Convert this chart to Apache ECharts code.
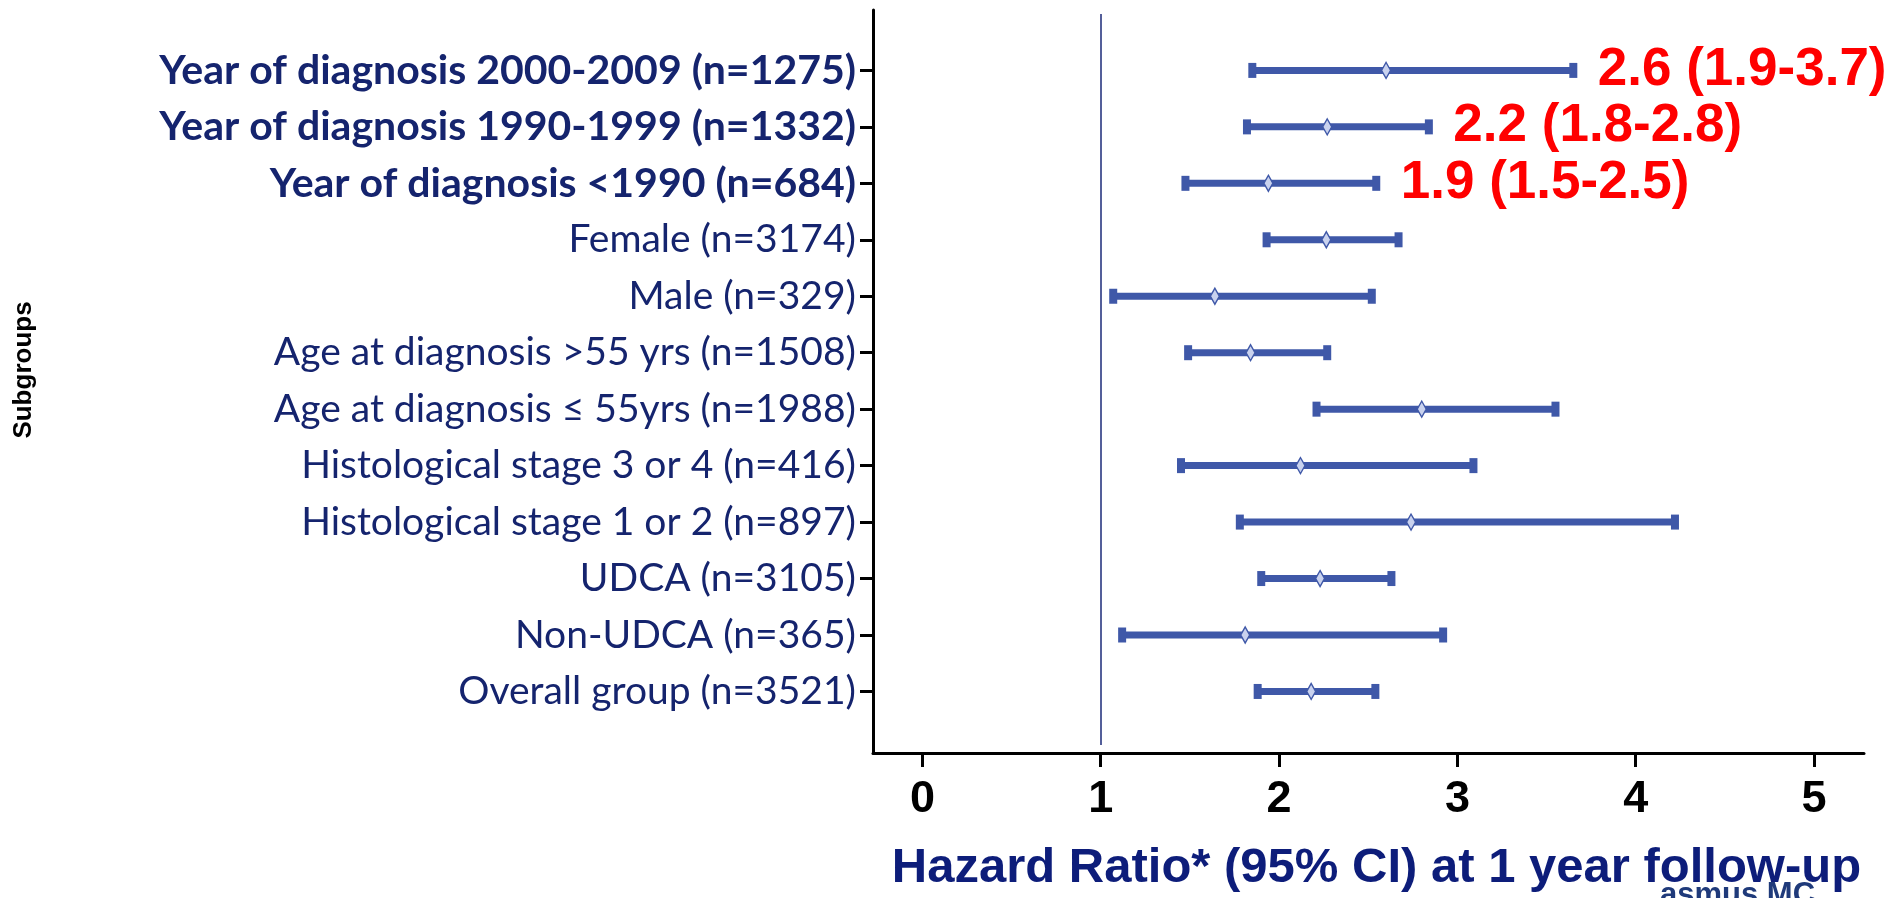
<!DOCTYPE html>
<html>
<head>
<meta charset="utf-8">
<script src="https://cdn.jsdelivr.net/npm/echarts@6/dist/echarts.min.js"></script>
<style>
html,body{margin:0;padding:0;background:#fff;}
#chart{width:1891px;height:898px;}
</style>
</head>
<body>
<div id="chart"></div>
<script>
// ---- data (bottom row first) ----
const categories = [
  'Overall group (n=3521)',
  'Non-UDCA (n=365)',
  'UDCA (n=3105)',
  'Histological stage 1 or 2 (n=897)',
  'Histological stage 3 or 4 (n=416)',
  'Age at diagnosis \u2264 55yrs (n=1988)',
  'Age at diagnosis >55 yrs (n=1508)',
  'Male (n=329)',
  'Female (n=3174)',
  'Year of diagnosis <1990 (n=684)',
  'Year of diagnosis 1990-1999 (n=1332)',
  'Year of diagnosis 2000-2009 (n=1275)'
];
const boldRows = [false, false, false, false, false, false, false, false, false, true, true, true];
const hazardRatio = [2.18, 1.81, 2.23, 2.74, 2.12, 2.80, 1.84, 1.64, 2.265, 1.94, 2.27, 2.60];
const ciLower     = [1.88, 1.12, 1.90, 1.78, 1.45, 2.21, 1.49, 1.07, 1.93, 1.475, 1.82, 1.85];
const ciUpper     = [2.54, 2.92, 2.63, 4.22, 3.09, 3.55, 2.27, 2.52, 2.67, 2.545, 2.84, 3.65];
const hrLabels    = ['', '', '', '', '', '', '', '', '', '1.9 (1.5-2.5)', '2.2 (1.8-2.8)', '2.6 (1.9-3.7)'];
const xTicks = [0, 1, 2, 3, 4, 5];
const refLineX = 1;
const refLineYRange = [-0.95, 12];
const xTitle = 'Hazard Ratio* (95% CI) at 1 year follow-up';
const yTitle = 'Subgroups';

const rowIdx = categories.map((_, i) => i);
const barColor = '#3f58a8';
const navy = '#15246e';

const ciData = rowIdx.map(i => [i, ciLower[i], ciUpper[i]]);
const pointData = rowIdx.map(i => [hazardRatio[i], i]);
const labelData = rowIdx.filter(i => hrLabels[i]).map(i => ({ value: [ciUpper[i], i], text: hrLabels[i] }));

const chart = echarts.init(document.getElementById('chart'), null, { renderer: 'canvas' });

const option = {
  backgroundColor: '#ffffff',
  animation: false,
  grid: { left: 873, right: 27, top: 10, bottom: 142, containLabel: false },
  xAxis: {
    type: 'value',
    min: -0.277,
    max: 5.28,
    name: xTitle,
    nameLocation: 'middle',
    nameGap: 91,
    nameTextStyle: { fontFamily: 'Liberation Sans', fontWeight: 'bold', fontSize: 49, color: '#0d1d7a', padding: [0, 0, 0, 16] },
    axisLine: { show: true, onZero: false, lineStyle: { color: '#000', width: 3 } },
    axisTick: { show: true, customValues: xTicks, length: 14, lineStyle: { color: '#000', width: 3 } },
    axisLabel: { customValues: xTicks, margin: 24, fontFamily: 'Liberation Sans', fontWeight: 'bold', fontSize: 45, color: '#000' },
    splitLine: { show: false }
  },
  yAxis: {
    type: 'value',
    min: -1.09,
    max: 12.07,
    axisLine: { show: true, onZero: false, lineStyle: { color: '#000', width: 3 } },
    axisTick: { show: true, customValues: rowIdx, length: 13, lineStyle: { color: '#000', width: 3 } },
    axisLabel: {
      customValues: rowIdx,
      margin: 17,
      formatter: v => {
        const i = Math.round(v);
        const t = categories[i] || '';
        return boldRows[i] ? '{b|' + t + '}' : '{r|' + t + '}';
      },
      rich: {
        r: { fontFamily: 'Lato', fontSize: 39, color: navy },
        b: { fontFamily: 'Lato', fontWeight: 'bold', fontSize: 41, color: navy }
      }
    },
    splitLine: { show: false }
  },
  graphic: [
    {
      type: 'text',
      x: 24, y: 370,
      rotation: Math.PI / 2,
      style: { text: yTitle, fontFamily: 'Liberation Sans', fontWeight: 'bold', fontSize: 26, fill: '#000', align: 'center', verticalAlign: 'middle' }
    },
    {
      type: 'text',
      x: 1660, y: 880, z: -1,
      style: { text: 'asmus MC', fontFamily: 'Liberation Sans', fontWeight: 'bold', fontSize: 31, fill: '#1f3a7a', align: 'left', verticalAlign: 'top' }
    }
  ],
  series: [
    {
      type: 'custom',
      name: 'CI',
      data: ciData,
      encode: { x: [1, 2], y: 0 },
      renderItem: (params, api) => {
        const y = api.value(0);
        const p1 = api.coord([api.value(1), y]);
        const p2 = api.coord([api.value(2), y]);
        const h = 7, capW = 8, capH = 15;
        return {
          type: 'group',
          children: [
            { type: 'rect', shape: { x: p1[0], y: p1[1] - h / 2, width: p2[0] - p1[0], height: h }, style: { fill: barColor } },
            { type: 'rect', shape: { x: p1[0] - capW / 2, y: p1[1] - capH / 2, width: capW, height: capH }, style: { fill: barColor } },
            { type: 'rect', shape: { x: p2[0] - capW / 2, y: p2[1] - capH / 2, width: capW, height: capH }, style: { fill: barColor } }
          ]
        };
      },
      z: 2
    },
    {
      type: 'scatter',
      name: 'HR',
      data: pointData,
      symbol: 'diamond',
      symbolSize: [9, 16],
      itemStyle: { color: '#c9d2ee', borderColor: barColor, borderWidth: 1.5, opacity: 1 },
      z: 3,
      markLine: {
        silent: true,
        symbol: 'none',
        label: { show: false },
        lineStyle: { color: '#1b2a78', width: 1.5, type: 'solid' },
        data: [[{ coord: [refLineX, refLineYRange[0]] }, { coord: [refLineX, refLineYRange[1]] }]]
      }
    },
    {
      type: 'scatter',
      name: 'labels',
      data: labelData,
      symbol: 'circle',
      symbolSize: 1,
      itemStyle: { color: 'rgba(0,0,0,0)', opacity: 1 },
      label: {
        show: true,
        position: 'right',
        distance: 24,
        formatter: p => p.data.text,
        fontFamily: 'Liberation Sans',
        fontWeight: 'bold',
        fontSize: 53,
        color: '#ff0000'
      },
      labelLayout: { hideOverlap: false },
      z: 4
    }
  ]
};
chart.setOption(option);
</script>
</body>
</html>
